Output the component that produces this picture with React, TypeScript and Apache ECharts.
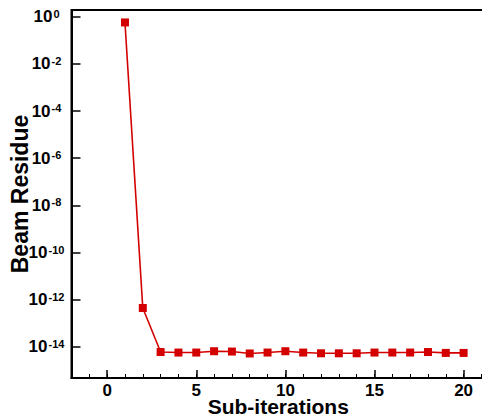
import React, { useEffect, useRef } from "react";
import * as echarts from "echarts";

const iterations = [1, 2, 3, 4, 5, 6, 7, 8, 9, 10, 11, 12, 13, 14, 15, 16, 17, 18, 19, 20];
const residues = [
  0.57, 4.5e-13, 6.1e-15, 5.8e-15, 5.8e-15, 6.6e-15, 6.4e-15, 5.3e-15, 5.8e-15, 6.6e-15,
  5.8e-15, 5.4e-15, 5.4e-15, 5.4e-15, 5.8e-15, 5.8e-15, 5.8e-15, 6.1e-15, 5.6e-15, 5.6e-15,
];
const xTickLabels = [0, 5, 10, 15, 20];
const yTickValues = [1e-14, 1e-12, 1e-10, 1e-8, 1e-6, 1e-4, 1e-2, 1];

const FONT = "Liberation Sans";

export default function App() {
  const ref = useRef<HTMLDivElement>(null);
  useEffect(() => {
    if (!ref.current) return;
    const chart = echarts.init(ref.current, undefined, { renderer: "svg" });
    chart.setOption({
      animation: false,
      backgroundColor: "#fff",
      grid: {
        left: 71.5,
        top: 10,
        right: -3,
        bottom: 41,
        show: true,
        borderColor: "#000",
        borderWidth: 2,
        containLabel: false,
        outerBoundsMode: "none",
      },
      xAxis: [
        {
          type: "value",
          min: -2,
          max: 21.2,
          interval: 1,
          position: "bottom",
          axisLine: { show: true, onZero: false, lineStyle: { color: "#000", width: 2 } },
          axisTick: { show: true, inside: true, length: 4, lineStyle: { color: "#000", width: 1 } },
          axisLabel: { show: false },
          splitLine: { show: false },
        },
        {
          type: "value",
          min: -2,
          max: 21.2,
          position: "bottom",
          axisLine: { show: false, onZero: false },
          axisTick: {
            show: true,
            inside: true,
            length: 8,
            customValues: xTickLabels,
            lineStyle: { color: "#000", width: 1.5 },
          },
          axisLabel: {
            show: true,
            customValues: xTickLabels,
            margin: 6,
            lineHeight: 13,
            color: "#000",
            fontFamily: FONT,
            fontWeight: "bold",
            fontSize: 17,
            formatter: (v: number) => String(v),
          },
          splitLine: { show: false },
          name: "Sub-iterations",
          nameLocation: "middle",
          nameGap: 20,
          nameMoveOverlap: false,
          nameTextStyle: { color: "#000", fontFamily: FONT, fontWeight: "bold", fontSize: 21, lineHeight: 17 },
        },
      ],
      yAxis: {
        type: "log",
        logBase: 10,
        min: 4.84e-16,
        max: 1.92,
        axisLine: { show: true, onZero: false, lineStyle: { color: "#000", width: 2 } },
        axisTick: {
          show: true,
          inside: true,
          length: 9,
          customValues: yTickValues,
          lineStyle: { color: "#000", width: 1.5 },
        },
        splitLine: { show: false },
        axisLabel: {
          show: true,
          customValues: yTickValues,
          margin: 25,
          align: "center",
          formatter: (v: number) => {
            const e = Math.round(Math.log10(v));
            return `{b|10}{s|${e}}`;
          },
          rich: {
            b: { fontFamily: FONT, fontWeight: "bold", fontSize: 17, color: "#000", verticalAlign: "bottom", lineHeight: 17 },
            s: { fontFamily: FONT, fontWeight: "bold", fontSize: 11, color: "#000", verticalAlign: "top", lineHeight: 11, padding: [0, 0, 0, 1] },
          },
        },
        name: "Beam Residue",
        nameLocation: "middle",
        nameGap: 40,
        nameMoveOverlap: false,
        nameTextStyle: { color: "#000", fontFamily: FONT, fontWeight: "bold", fontSize: 23 },
      },
      series: [
        {
          type: "line",
          xAxisIndex: 0,
          data: iterations.map((x, i) => [x, residues[i]]),
          symbol: "rect",
          symbolSize: 8,
          itemStyle: { color: "#d40000" },
          lineStyle: { color: "#d40000", width: 1.6 },
        },
      ],
    });
    return () => chart.dispose();
  }, []);
  return (
    <div
      ref={ref}
      style={{ position: "fixed", left: 0, top: 0, width: 482, height: 419 }}
    />
  );
}
